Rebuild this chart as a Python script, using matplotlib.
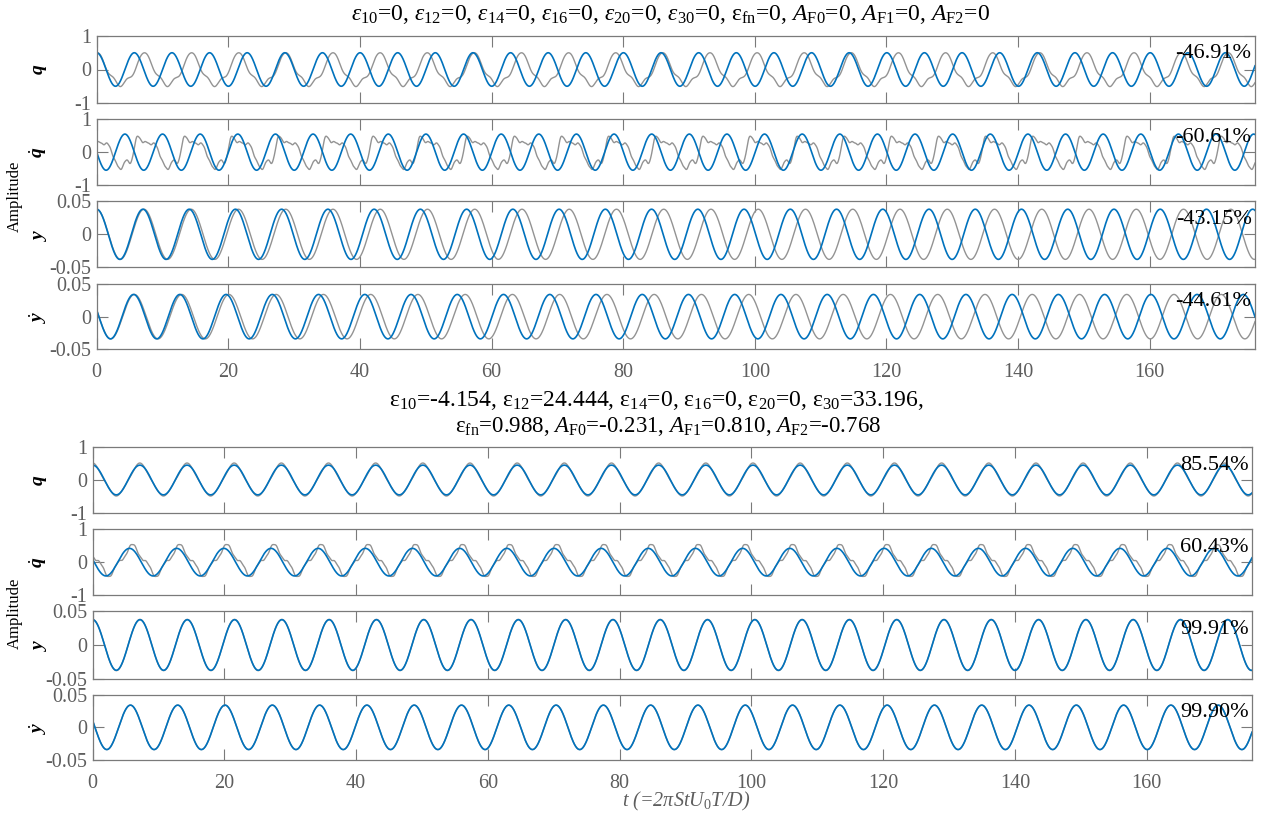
import numpy as np
import matplotlib
matplotlib.use("Agg")
import matplotlib.pyplot as plt

plt.rcParams['font.family'] = ['Liberation Serif', 'DejaVu Serif']
plt.rcParams['mathtext.fontset'] = 'custom'
plt.rcParams['mathtext.rm'] = 'Liberation Serif'
plt.rcParams['mathtext.it'] = 'Liberation Serif:italic'
plt.rcParams['mathtext.bf'] = 'Liberation Serif:bold:italic'
plt.rcParams['axes.unicode_minus'] = False

# time axis (=2*pi*St*U0*T/D)
t_max = 176.0
x_ticks = [0, 20, 40, 60, 80, 100, 120, 140, 160]

panel_labels = [r'$\mathbf{q}$', r'$\dot{\mathbf{q}}$', r'$\mathbf{y}$', r'$\dot{\mathbf{y}}$']
y_limits = [1.0, 1.0, 0.05, 0.05]
y_ticklabels = [['-1', '0', '1'], ['-1', '0', '1'],
                ['-0.05', '0', '0.05'], ['-0.05', '0', '0.05']]

title_top = (r'$\varepsilon_{10}$=0, $\varepsilon_{12}$=0, $\varepsilon_{14}$=0, '
             r'$\varepsilon_{16}$=0, $\varepsilon_{20}$=0, $\varepsilon_{30}$=0, '
             r'ε$_{\rm fn}$=0, $A_{\rm F0}$=0, $A_{\rm F1}$=0, $A_{\rm F2}$=0')
title_bot_1 = (r'ε$_{10}$=-4.154, ε$_{12}$=24.444, ε$_{14}$=0, ε$_{16}$=0, '
               r'ε$_{20}$=0, ε$_{30}$=33.196,')
title_bot_2 = r'ε$_{\rm fn}$=0.988, $A_{\rm F0}$=-0.231, $A_{\rm F1}$=0.810, $A_{\rm F2}$=-0.768'

score_top = ['-46.91%', '-60.61%', '-43.15%', '-44.61%']
score_bot = ['85.54%', '60.43%', '99.91%', '99.90%']

# model response (blue): single harmonic, amp*cos(2*pi*t/period + phase)
model_top_period = [5.717, 5.717, 7.026, 7.026]
model_top_amp = [0.50, 0.55, 0.038, 0.034]
model_top_phase = [0.0, 1.571, 0.0, 1.27]

model_bot_period = [7.16, 7.16, 7.18, 7.18]
model_bot_amp = [0.45, 0.42, 0.0375, 0.034]
model_bot_phase = [0.0, 1.38, 0.0, 1.27]

# measured response (gray): offset + sum of (k, a_k, b_k) harmonics
meas_period = [7.16, 7.16, 7.18, 7.18]
meas_top_offset = [-0.048, 0.01, 0.0, 0.0]
meas_top_harm = [
    [(1, 0.445, 0.042), (2, 0.073, 0.015), (3, 0.058, 0.0), (4, -0.032, 0.0)],
    [(1, 0.415, 0.076), (2, -0.058, -0.069), (3, -0.025, -0.098),
     (4, -0.06, 0.032), (5, 0.02, 0.056), (11, 0.0, 0.012)],
    [(1, 0.038, 0.0)],
    [(1, 0.0101, -0.0325)],
]
meas_bot_offset = [0.0, 0.05, 0.0, 0.0]
meas_bot_harm = [
    [(1, 0.47, 0.0), (2, 0.015, 0.0), (3, 0.03, 0.0)],
    [(1, 0.222, -0.333), (3, -0.098, -0.019), (9, 0.012, 0.01)],
    [(1, 0.038, 0.0)],
    [(1, 0.0101, -0.0325)],
]

blue = '#0072BD'
gray = '#939393'
axis_gray = '#7a7a7a'
label_gray = '#5e5e5e'

t = np.linspace(0, t_max, 6000)


def harmonic(t, period, offset, harm):
    w = 2 * np.pi / period
    out = np.full_like(t, offset)
    for k, a, b in harm:
        out += a * np.cos(k * w * t) + b * np.sin(k * w * t)
    return out


fig = plt.figure(figsize=(12.65, 8.16), dpi=100)
W, H = 1265.0, 816.0

top_rows = [(36, 103), (119.3, 185), (201.3, 267.3), (284, 349.3)]
bot_rows = [(447, 513), (529.3, 595), (611.3, 678.7), (694.7, 760)]
groups = [
    (96.7, 1255.0, top_rows, model_top_period, model_top_amp, model_top_phase,
     meas_top_offset, meas_top_harm, score_top),
    (92.7, 1252.0, bot_rows, model_bot_period, model_bot_amp, model_bot_phase,
     meas_bot_offset, meas_bot_harm, score_bot),
]

for left, right, rows, mp, ma, mph, moff, mharm, scores in groups:
    for i, (top, bot) in enumerate(rows):
        ax = fig.add_axes([left / W, 1 - bot / H, (right - left) / W, (bot - top) / H])
        meas = harmonic(t, meas_period[i], moff[i], mharm[i])
        model = ma[i] * np.cos(2 * np.pi * t / mp[i] + mph[i])
        ax.plot(t, meas, color=gray, lw=1.0)
        ax.plot(t, model, color=blue, lw=1.2)
        lim = y_limits[i]
        ax.set_xlim(0, t_max)
        ax.set_ylim(-lim, lim)
        ax.set_yticks([-lim, 0, lim])
        ax.set_yticklabels(y_ticklabels[i])
        ax.set_xticks(x_ticks)
        if i < 3:
            ax.set_xticklabels([])
        ax.tick_params(direction='in', top=True, right=True, length=8, width=0.8,
                       color=axis_gray, labelcolor=label_gray, labelsize=14.5, pad=4)
        ax.tick_params(axis='x', pad=10)
        for s in ax.spines.values():
            s.set_color(axis_gray)
            s.set_linewidth(0.9)
        ax.set_ylabel(panel_labels[i], fontsize=14, color='black')
        ax.yaxis.set_label_coords((49 - left) / (right - left), 0.5)
        ax.text(0.997, 1 - 18 / (bot - top), scores[i], transform=ax.transAxes,
                ha='right', va='center', fontsize=16, color='black')

fig.text(670 / W, 1 - 14 / H, title_top, ha='center', va='center', fontsize=17)
fig.text(656 / W, 1 - 401 / H, title_bot_1, ha='center', va='center', fontsize=17)
fig.text(668 / W, 1 - 426 / H, title_bot_2, ha='center', va='center', fontsize=16.5)

fig.text(15 / W, 1 - 196 / H, 'Amplitude', rotation=90, ha='center', va='center', fontsize=12)
fig.text(15 / W, 1 - 613 / H, 'Amplitude', rotation=90, ha='center', va='center', fontsize=12)

fig.text(686 / W, 1 - 801 / H, r't (=2πStU$_\mathit{0}$T/D)', ha='center', va='center',
         fontsize=14.5, style='italic', color=label_gray)

fig.savefig('out.png', dpi=100)
